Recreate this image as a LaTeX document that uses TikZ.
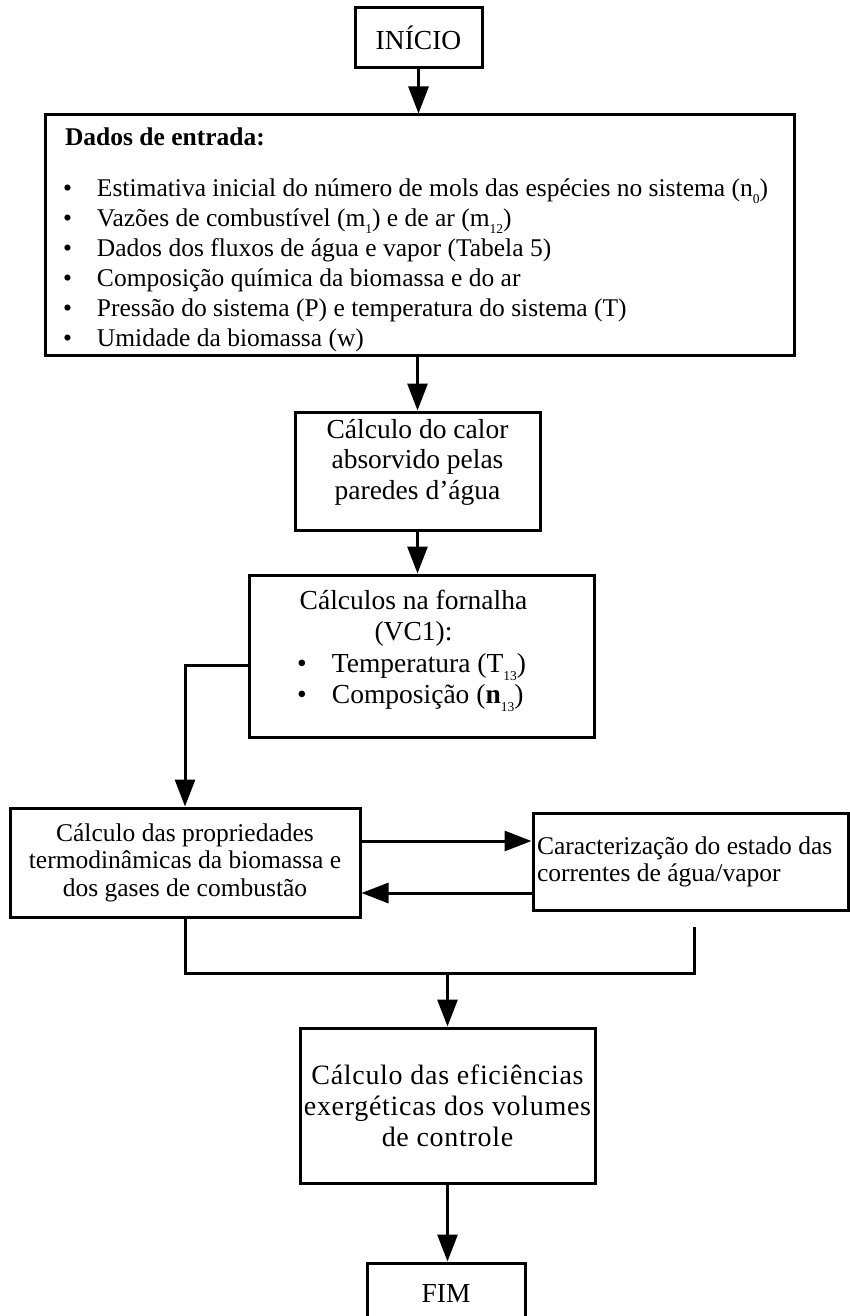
\documentclass[tikz,border=0pt]{standalone}
\usepackage{fontspec}
\setmainfont{Liberation Serif}
\usetikzlibrary{arrows.meta,calc}
% lowered small index, as in n0, m12, T13
\newcommand\subidx[1]{\raisebox{-0.6ex}{\fontsize{13.5}{13.5}\selectfont #1}}
\newcommand\bul{\makebox[34pt][l]{\textbullet}}
\newcommand\bulf{\makebox[35pt][l]{\textbullet}}
% one line of the furnace box: fixed width, left aligned
\newcommand\fline[1]{\makebox[249pt][l]{#1}}

\begin{document}
\begin{tikzpicture}[x=1pt,y=-1pt,
  box/.style={draw, line width=3pt, rectangle, inner sep=0pt, align=center},
  big/.style={font=\fontsize{27.5}{30.5}\selectfont},
  small/.style={font=\fontsize{25.5}{30}\selectfont},
  link/.style={line width=3pt},
  flow/.style={line width=3pt, -{Triangle[length=27pt,width=20pt]}}]
\useasboundingbox (0,0) rectangle (850,1316);
\fill[white] (0,0) rectangle (850,1316);

% main column of steps
\node[box, big, minimum width=127pt, minimum height=60pt] (inicio) at (418.5,38) {INÍCIO};

\node[box, small, minimum width=749pt, minimum height=240pt]
  (dados) at (419.5,235) {\parbox{709pt}{\vspace*{9pt}\raggedright
  \textbf{Dados de entrada:}\\[21pt]
  \hspace*{-2pt}\bul Estimativa inicial do número de mols das espécies no sistema (n\subidx{0})\\
  \hspace*{-2pt}\bul Vazões de combustível (m\subidx{1}) e de ar (m\subidx{12})\\
  \hspace*{-2pt}\bul Dados dos fluxos de água e vapor (Tabela 5)\\
  \hspace*{-2pt}\bul Composição química da biomassa e do ar\\
  \hspace*{-2pt}\bul Pressão do sistema (P) e temperatura do sistema (T)\\
  \hspace*{-2pt}\bul Umidade da biomassa (w)}};

\node[box, big, minimum width=245pt, minimum height=118pt, text depth=24pt]
  (calor) at (417.5,471) {Cálculo do calor\\absorvido pelas\\paredes d’água};

\node[box, font=\fontsize{27.5}{31.5}\selectfont, minimum width=345pt, minimum height=162pt, text depth=18pt]
  (forn) at (421.5,656) {%
  \fline{\makebox[233pt][c]{Cálculos na fornalha}}\\
  \fline{\makebox[233pt][c]{(VC1):}}\\
  \fline{\bulf Temperatura (T\subidx{13})}\\
  \fline{\bulf Composição (\textbf{n}\subidx{13})}};

% the two coupled calculations
\node[box, font=\fontsize{25.5}{27.5}\selectfont, minimum width=350pt, minimum height=109pt]
  (prop) at (185,862.5) {Cálculo das propriedades\\termodinâmicas da biomassa e\\dos gases de combustão};

\node[box, font=\fontsize{25.5}{27}\selectfont, minimum width=315pt, minimum height=97pt]
  (car) at (690.5,861.5) {\parbox{307pt}{\raggedright Caracterização do estado das\\correntes de água/vapor}};

\node[box, font=\fontsize{28}{31}\selectfont\addfontfeatures{LetterSpace=2.5}, minimum width=295pt, minimum height=155pt]
  (efic) at (447.5,1105.5) {Cálculo das eficiências\\exergéticas dos volumes\\de controle};

\node[box, big, minimum width=158pt, minimum height=60pt] (fim) at (446,1293) {FIM};

% junction points
\coordinate (join) at (efic.north |- 0,973);
\coordinate (carfoot) at ($(car.south)+(3.5,15)$);

% connectors
\draw[flow] (inicio.south) -- (inicio.south |- dados.north);
\draw[flow] (calor.north |- dados.south) -- (calor.north);
\draw[flow] (calor.south) -- (calor.south |- forn.north);
\draw[flow] ([yshift=-9pt]forn.west) -| (prop.north);
\draw[flow] ([yshift=21.5pt]prop.east) -- ([yshift=21.5pt]prop.east -| car.west);
\draw[flow] ([yshift=-30.5pt]prop.east -| car.west) -- ([yshift=-30.5pt]prop.east);
\draw[link] (prop.south) |- (carfoot |- join) -- (carfoot);
\draw[flow] (join) -- (efic.north);
\draw[flow] (efic.south) -- (efic.south |- fim.north);
\end{tikzpicture}
\end{document}
